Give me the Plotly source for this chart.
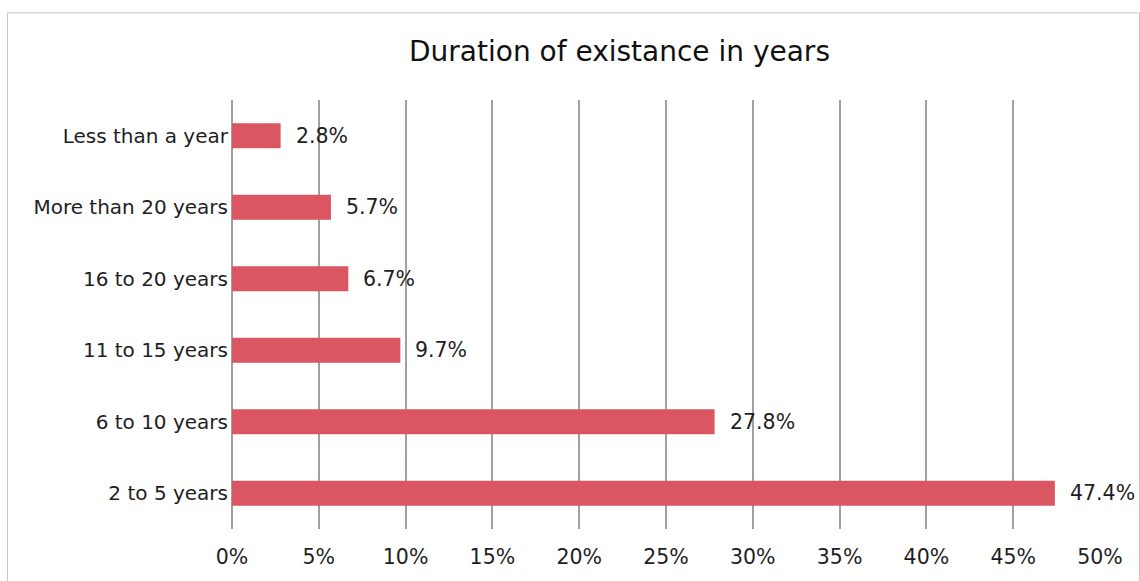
import plotly.graph_objects as go

# Survey results: how long each organisation has existed
categories = ["2 to 5 years", "6 to 10 years", "11 to 15 years",
              "16 to 20 years", "More than 20 years", "Less than a year"]
shares = [47.4, 27.8, 9.7, 6.7, 5.7, 2.8]
tick_values = [0, 5, 10, 15, 20, 25, 30, 35, 40, 45, 50]
tick_labels = [f"{v}%" for v in tick_values]

FONT = "DejaVu Sans"
BAR = "#d95662"
GRID = "#a0a0a0"
TEXT = "#1e1e1e"

W, H = 1140, 581
L, R, T, B = 232, 40, 100, 50
pw, ph = W - L - R, H - T - B

fig = go.Figure(go.Bar(
    y=categories, x=shares, orientation="h",
    marker=dict(color=BAR, line=dict(width=0)),
    width=0.35, hoverinfo="skip",
))

for cat, val in zip(categories, shares):
    fig.add_annotation(x=val, y=cat, text=f"{val}%", showarrow=False,
                       xanchor="left", xshift=13,
                       font=dict(family=FONT, size=20.5, color=TEXT))

# Frame around the whole chart
def px_x(p):
    return (p - L) / pw

def px_y(p):
    return (H - B - p) / ph

fig.add_shape(type="rect", xref="paper", yref="paper",
              x0=px_x(7.5), x1=px_x(1139.5), y0=px_y(600), y1=px_y(12.5),
              line=dict(color="#c8c8c8", width=1), fillcolor="rgba(0,0,0,0)")

fig.update_layout(
    width=W, height=H,
    margin=dict(l=L, r=R, t=T, b=B, pad=0),
    paper_bgcolor="white", plot_bgcolor="white",
    showlegend=False,
    title=dict(text="Duration of existance in years", xref="container",
               x=619.5 / W, xanchor="center",
               y=1 - 51 / H, yanchor="middle",
               font=dict(family=FONT, size=28, color="#111111")),
    xaxis=dict(range=[0, 50], tickvals=tick_values, ticktext=tick_labels,
               showgrid=True, gridcolor=GRID, gridwidth=2,
               zeroline=True, zerolinecolor=GRID, zerolinewidth=2,
               showline=False, ticks="", ticklabelstandoff=13,
               tickfont=dict(family=FONT, size=20.5, color=TEXT)),
    yaxis=dict(categoryorder="array", categoryarray=categories,
               showgrid=False, zeroline=False, showline=False, ticks="",
               ticklabelstandoff=3,
               tickfont=dict(family=FONT, size=20, color=TEXT)),
    font=dict(family=FONT),
)

fig.write_html("out.html")
